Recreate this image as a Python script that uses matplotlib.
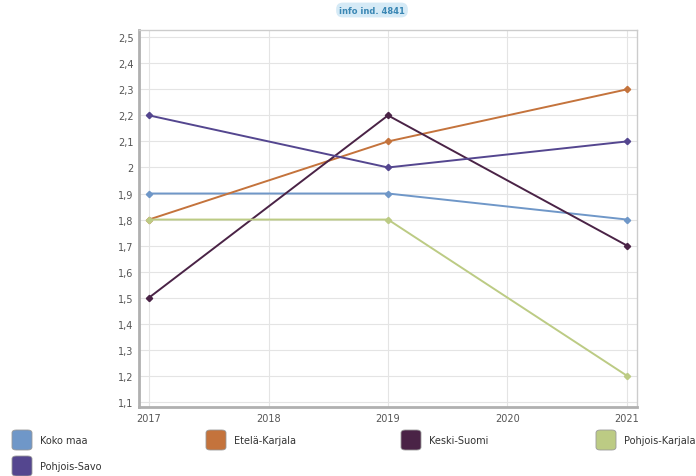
import numpy as np
import matplotlib.pyplot as plt
from matplotlib.patches import FancyBboxPatch
from matplotlib.ticker import FuncFormatter

years = [2017, 2019, 2021]
series_names = ['Koko maa', 'Etelä-Karjala', 'Keski-Suomi', 'Pohjois-Karjala', 'Pohjois-Savo']
koko_maa = [1.9, 1.9, 1.8]
etela_karjala = [1.8, 2.1, 2.3]
keski_suomi = [1.5, 2.2, 1.7]
pohjois_karjala = [1.8, 1.8, 1.2]
pohjois_savo = [2.2, 2.0, 2.1]
colors = ['#6f97c8', '#c4733c', '#4a2346', '#bccb84', '#54468f']
x_ticks = [2017, 2018, 2019, 2020, 2021]
y_ticks = np.arange(1.1, 2.51, 0.1)

values = [koko_maa, etela_karjala, keski_suomi, pohjois_karjala, pohjois_savo]

fig = plt.figure(figsize=(6.96, 4.77), dpi=100)
ax = fig.add_axes([139/696, 1-408/477, (637-139)/696, (408-31)/477])

for name, vals, c in zip(series_names, values, colors):
    ax.plot(years, vals, color=c, lw=1.4, marker='D', ms=3.2, label=name, zorder=3)

ax.set_xlim(2016.916, 2021.084)
ax.set_ylim(1.08, 2.528)
ax.set_xticks(x_ticks)
ax.set_yticks(y_ticks)
ax.yaxis.set_major_formatter(FuncFormatter(lambda v, p: ('%g' % round(v, 1)).replace('.', ',')))
ax.grid(True, color='#e4e4e4', lw=0.8)
ax.set_axisbelow(True)
ax.tick_params(length=0, labelsize=7, colors='#555555', pad=4)
for s in ['left', 'bottom']:
    ax.spines[s].set_color('#b0b0b0')
    ax.spines[s].set_linewidth(2)
for s in ['top', 'right']:
    ax.spines[s].set_color('#cccccc')
    ax.spines[s].set_linewidth(1)

# top badge
fig.text(372/696, 1-11/477, 'info ind. 4841', ha='center', va='center', fontsize=6,
         fontweight='bold', color='#3a87b4',
         bbox=dict(boxstyle='round,pad=0.35,rounding_size=0.8', fc='#d5eaf6', ec='none'))

# legend, drawn by hand
leg_x = [12, 206, 401, 596, 12]
leg_y = [441, 441, 441, 441, 467]
for name, c, lx, ly in zip(series_names, colors, leg_x, leg_y):
    fig.patches.append(FancyBboxPatch((lx/696, 1-(ly+10)/477), 20/696, 20/477,
                                      boxstyle='round,pad=0,rounding_size=0.006',
                                      transform=fig.transFigure, fc=c, ec='#999999', lw=0.6))
    fig.text((lx+28)/696, 1-ly/477, name, ha='left', va='center', fontsize=7, color='#333333')

fig.savefig('out.png', dpi=100)
